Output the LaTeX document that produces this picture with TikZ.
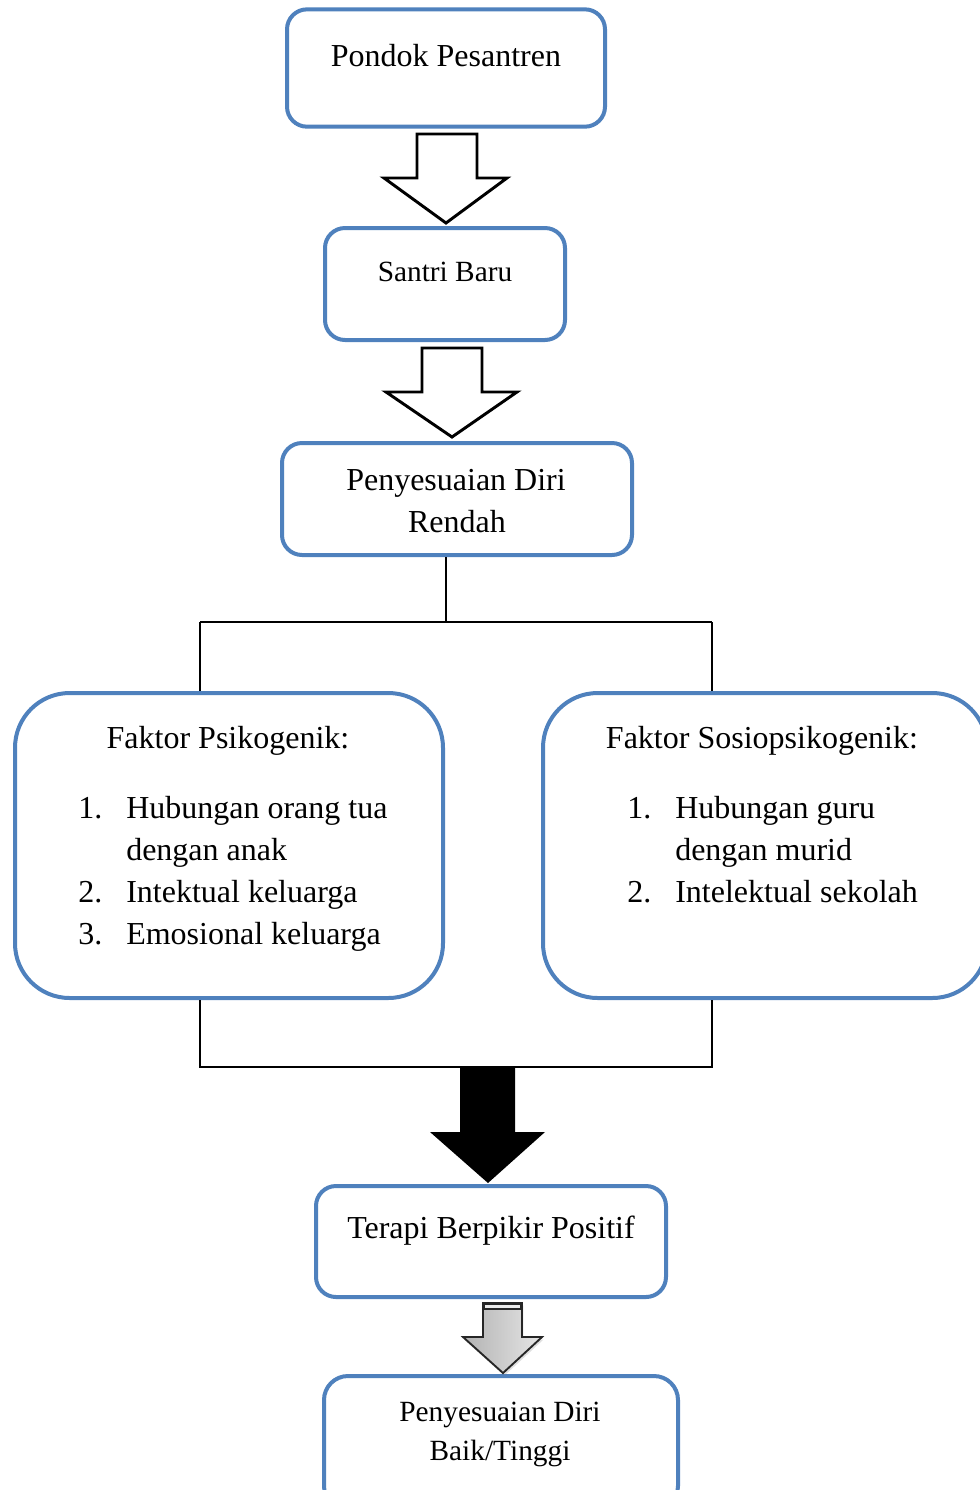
\documentclass[tikz,border=0pt]{standalone}
\usepackage{fontspec}
\setmainfont{Liberation Serif}
\usetikzlibrary{shadows}
\definecolor{boxblue}{RGB}{79,129,189}
\begin{document}
\begin{tikzpicture}[x=0.75pt,y=-0.75pt,
  box/.style={draw=boxblue,line width=3pt,rounded corners=15pt,inner sep=0pt,fill=white},
  bigbox/.style={box,rounded corners=41pt},
  txt/.style={inner sep=0pt,anchor=base,font=\fontsize{24}{31.5}\selectfont},
  stxt/.style={txt,font=\fontsize{22}{29}\selectfont},
  ltxt/.style={txt,anchor=base west},
  conn/.style={draw=black,line width=1.3pt},
  hollow/.style={draw=black,line width=2.2pt,fill=white,line join=miter},
  solidarrow/.style={fill=black},
  grayarrow/.style={draw=black!85,line width=1.4pt,left color=black!30,right color=black!10,line join=miter,
    drop shadow={opacity=0.25,shadow xshift=1pt,shadow yshift=-2pt}},
]
\useasboundingbox (0,0) rectangle (980,1490);

% boxes
\node[box,minimum width=238.5pt,minimum height=88pt] (b1) at (446,68) {};
\node[box,minimum width=180pt,minimum height=84pt] (b2) at (445,284) {};
\node[box,minimum width=262.5pt,minimum height=84pt] (b3) at (457,499) {};
\node[bigbox,minimum width=321pt,minimum height=228.75pt] (L) at (229,845.5) {};
\node[bigbox,minimum width=333pt,minimum height=228.75pt] (R) at (765,845.5) {};
\node[box,minimum width=262.5pt,minimum height=83.25pt] (b6) at (491,1241.5) {};
\node[box,rounded corners=18pt,minimum width=265.5pt,minimum height=100.5pt] (b7) at (501,1443) {};

% texts
\node[txt] (t1) at (446,66) {Pondok Pesantren};
\node[stxt] (t2) at (445,281) {Santri Baru};
\node[txt] (t3a) at (456,490) {Penyesuaian Diri};
\node[txt] (t3b) at (457,532) {Rendah};

\node[txt] (lt) at (228,748) {Faktor Psikogenik:};
\node[ltxt] (ln1) at (78,818) {1.};
\node[ltxt] (ll1) at (126,818) {Hubungan orang tua};
\node[ltxt] (ll1b) at (126,860) {dengan anak};
\node[ltxt] (ln2) at (78,902) {2.};
\node[ltxt] (ll2) at (126,902) {Intektual keluarga};
\node[ltxt] (ln3) at (78,944) {3.};
\node[ltxt] (ll3) at (126,944) {Emosional keluarga};

\node[txt] (rt) at (762,748) {Faktor Sosiopsikogenik:};
\node[ltxt] (rn1) at (627,818) {1.};
\node[ltxt] (rl1) at (675,818) {Hubungan guru};
\node[ltxt] (rl1b) at (675,860) {dengan murid};
\node[ltxt] (rn2) at (627,902) {2.};
\node[ltxt] (rl2) at (675,902) {Intelektual sekolah};

\node[txt] (t6) at (491,1238) {Terapi Berpikir Positif};
\node[stxt] (t7a) at (500,1421) {Penyesuaian Diri};
\node[stxt] (t7b) at (500,1460) {Baik/Tinggi};

% connectors
\coordinate (j0) at (446,622);
\coordinate (jl) at (200,622);
\coordinate (jr) at (712,622);
\coordinate (kl) at (200,1067);
\coordinate (kr) at (712,1067);
\draw[conn] (b3.south -| j0) -- (j0);
\draw[conn] (jl) -- (jr);
\draw[conn] (jl) -- (jl |- L.north);
\draw[conn] (jr) -- (jr |- R.north);
\draw[conn] (kl |- L.south) -- (kl) -- (kr) -- (kr |- R.south);

% block arrows
\draw[hollow] (417,134) -- (477,134) -- (477,178) -- (507,178) -- (446,223) -- (384,178) -- (417,178) -- cycle;
\draw[hollow] (422,348) -- (482,348) -- (482,392) -- (517,392) -- (452,437) -- (386,392) -- (422,392) -- cycle;
\fill[solidarrow] (460,1066) -- (515,1066) -- (515,1132) -- (545,1132) -- (488,1183) -- (430,1132) -- (460,1132) -- cycle;
\path[grayarrow] (483,1303) -- (522,1303) -- (522,1337) -- (542,1337) -- (503,1373) -- (463,1337) -- (483,1337) -- cycle;
\draw[draw=black!85,line width=1pt,fill=black!8] (484,1304) rectangle (521,1309);
\end{tikzpicture}
\end{document}
